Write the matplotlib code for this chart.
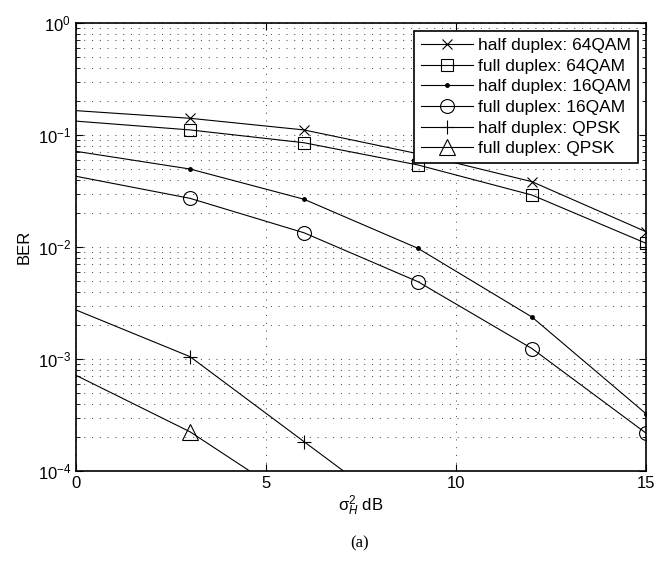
import numpy as np
import matplotlib
matplotlib.use("Agg")
import matplotlib.pyplot as plt
from matplotlib.ticker import LogLocator, NullFormatter

plt.rcParams['font.family'] = ['Liberation Sans', 'DejaVu Sans']
plt.rcParams['mathtext.fontset'] = 'custom'
plt.rcParams['mathtext.rm'] = 'Liberation Sans'
plt.rcParams['mathtext.it'] = 'Liberation Sans:italic'

# sigma_H^2 in dB
snr = [0, 3, 6, 9, 12, 15]
qpsk_x_half = [0, 3, 6, 9]
qpsk_x_full = [0, 3, 6]

half_64qam = [0.165, 0.141, 0.111, 0.068, 0.0383, 0.0137]
full_64qam = [0.133, 0.111, 0.0853, 0.054, 0.0291, 0.0108]
half_16qam = [0.0715, 0.0497, 0.0267, 0.00973, 0.00237, 0.000325]
full_16qam = [0.0428, 0.0272, 0.0134, 0.0049, 0.00124, 0.000218]
half_qpsk = [0.00274, 0.00105, 0.000183, 3.2e-5]
full_qpsk = [0.000715, 0.000224, 4.8e-5]

labels = ["half duplex: 64QAM", "full duplex: 64QAM", "half duplex: 16QAM",
          "full duplex: 16QAM", "half duplex: QPSK", "full duplex: QPSK"]

fig = plt.figure(figsize=(6.57, 5.61), dpi=100)
ax = fig.add_axes([0.1157, 0.1604, 0.8675, 0.7986])

lw = 0.8
ax.plot(snr, half_64qam, 'k-', marker='x', ms=7, mew=0.8, lw=lw, markevery=slice(1, None), label=labels[0])
ax.plot(snr, full_64qam, 'k-', marker='s', ms=8, mew=0.8, mfc='none', lw=lw, markevery=slice(1, None), label=labels[1])
ax.plot(snr, half_16qam, 'k-', marker='.', ms=5, lw=lw, markevery=slice(1, None), label=labels[2])
ax.plot(snr, full_16qam, 'k-', marker='o', ms=10, mew=0.8, mfc='none', lw=lw, markevery=slice(1, None), label=labels[3])
ax.plot(qpsk_x_half, half_qpsk, 'k-', marker='+', ms=10, mew=0.8, lw=lw, markevery=slice(1, None), label=labels[4])
ax.plot(qpsk_x_full, full_qpsk, 'k-', marker='^', ms=11, mew=0.8, mfc='none', lw=lw, markevery=slice(1, None), label=labels[5])

ax.set_yscale('log')
ax.set_xlim(0, 15)
ax.set_ylim(1e-4, 1)
ax.set_xticks([0, 5, 10, 15])
ax.yaxis.set_major_locator(LogLocator(base=10, numticks=10))
ax.yaxis.set_minor_locator(LogLocator(base=10, subs=np.arange(2, 10), numticks=20))
ax.yaxis.set_minor_formatter(NullFormatter())

# matlab style dotted grid
ax.grid(True, which='major', linestyle=(0, (1, 7)), color='0.25', lw=0.7)
ax.grid(True, which='minor', axis='y', linestyle=(0, (1, 7)), color='0.25', lw=0.7)
ax.tick_params(which='both', direction='in', top=True, right=True, labelsize=12)
ax.tick_params(which='major', length=5)
ax.tick_params(which='minor', length=3)
for s in ax.spines.values():
    s.set_linewidth(1.2)

ax.set_ylabel("BER", fontsize=12)
ax.set_xlabel(r'$\mathrm{\sigma}^2_H$ dB', fontsize=12, labelpad=2)

leg = ax.legend(loc='upper right', fontsize=12.5, frameon=True, fancybox=False,
                edgecolor='k', framealpha=1, handlelength=3.0, handletextpad=0.3,
                borderpad=0.4, labelspacing=0.32, borderaxespad=0.45)
leg.get_frame().set_linewidth(1.2)

fig.text(0.548, 0.025, "(a)", fontsize=12, family='Liberation Serif', ha='center')

plt.savefig("out.png", dpi=100)
